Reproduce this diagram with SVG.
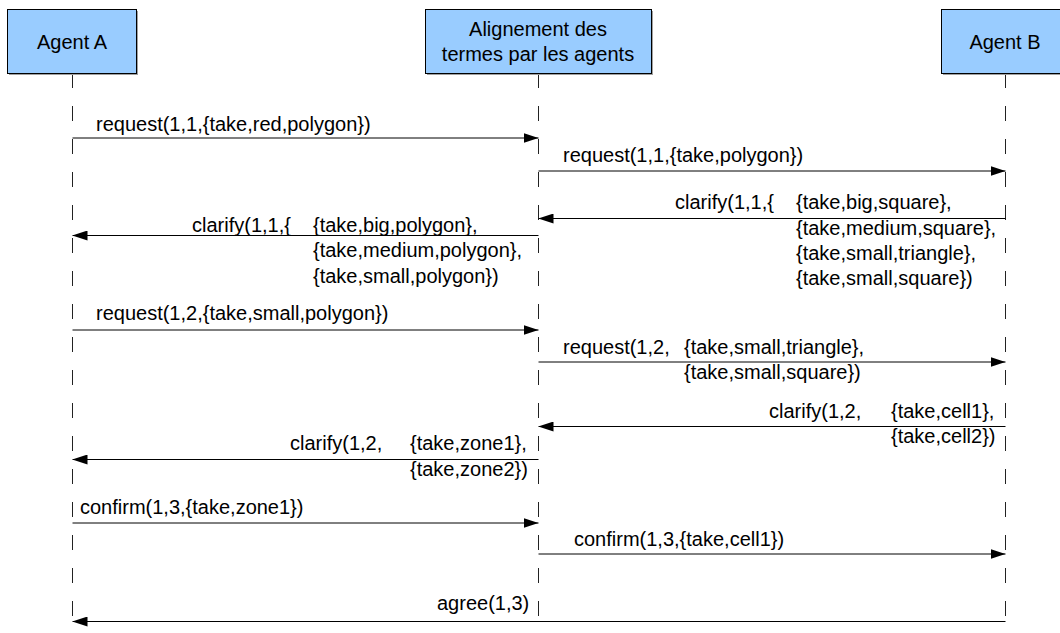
<svg xmlns="http://www.w3.org/2000/svg" width="1060" height="633" viewBox="0 0 1060 633">
<style>
text{font-family:"Liberation Sans",Arial,sans-serif;font-size:20px;fill:#000}
.box{fill:#99ccff;stroke:#000;stroke-width:1}
.shadow{fill:#a0a0a0}
.life{stroke:#222;stroke-width:1;stroke-dasharray:15 18;fill:none}
.msg{stroke:#000;stroke-width:1;fill:none}
.c{text-anchor:middle}
</style>
<defs>
<marker id="ah" viewBox="0 0 15 10" refX="15" refY="5" markerWidth="15" markerHeight="10" markerUnits="userSpaceOnUse" orient="auto">
<path d="M0,0 L15,5 L0,10 Z" fill="#000"/>
</marker>
</defs>
<rect width="1060" height="633" fill="#fff"/>
<g id="lifelines">
<line class="life" x1="72.5" y1="73" x2="72.5" y2="633"/>
<line class="life" x1="538.5" y1="73" x2="538.5" y2="633"/>
<line class="life" x1="1005.5" y1="73" x2="1005.5" y2="633"/>
</g>
<g id="agentA">
<rect class="shadow" x="9" y="11" width="129" height="64"/>
<rect class="box" x="7.5" y="9.5" width="129" height="64"/>
<text class="c" x="72" y="49">Agent A</text>
</g>
<g id="alignement">
<rect class="shadow" x="427" y="11" width="226" height="64"/>
<rect class="box" x="425.5" y="9.5" width="226" height="64"/>
<text class="c" x="538" y="36">Alignement des</text>
<text class="c" x="538" y="61">termes par les agents</text>
</g>
<g id="agentB">
<rect class="shadow" x="943" y="11" width="129" height="64"/>
<rect class="box" x="941.5" y="9.5" width="129" height="64"/>
<text class="c" x="1005" y="49">Agent B</text>
</g>
<g id="connectors">
<line class="msg" x1="72.5" y1="138" x2="538.5" y2="138" marker-end="url(#ah)"/>
<line class="msg" x1="538.5" y1="171" x2="1005.5" y2="171" marker-end="url(#ah)"/>
<line class="msg" x1="1005.5" y1="218.5" x2="538.5" y2="218.5" marker-end="url(#ah)"/>
<line class="msg" x1="538.5" y1="235.5" x2="72.5" y2="235.5" marker-end="url(#ah)"/>
<line class="msg" x1="72.5" y1="330" x2="538.5" y2="330" marker-end="url(#ah)"/>
<line class="msg" x1="538.5" y1="362" x2="1005.5" y2="362" marker-end="url(#ah)"/>
<line class="msg" x1="1005.5" y1="426.5" x2="538.5" y2="426.5" marker-end="url(#ah)"/>
<line class="msg" x1="538.5" y1="459.5" x2="72.5" y2="459.5" marker-end="url(#ah)"/>
<line class="msg" x1="72.5" y1="523" x2="538.5" y2="523" marker-end="url(#ah)"/>
<line class="msg" x1="538.5" y1="554" x2="1005.5" y2="554" marker-end="url(#ah)"/>
<line class="msg" x1="1005.5" y1="621.5" x2="72.5" y2="621.5" marker-end="url(#ah)"/>
</g>
<g id="labels">
<text x="96" y="130.5">request(1,1,{take,red,polygon})</text>
<text x="563" y="161.5">request(1,1,{take,polygon})</text>
<text x="675" y="209">clarify(1,1,{</text>
<text x="796" y="209">{take,big,square},</text>
<text x="796" y="234.5">{take,medium,square},</text>
<text x="796" y="260">{take,small,triangle},</text>
<text x="796" y="285">{take,small,square})</text>
<text x="192" y="231.5">clarify(1,1,{</text>
<text x="313" y="231.5">{take,big,polygon},</text>
<text x="313" y="257">{take,medium,polygon},</text>
<text x="313" y="282.5">{take,small,polygon})</text>
<text x="96" y="319.5">request(1,2,{take,small,polygon})</text>
<text x="563" y="353.5">request(1,2,</text>
<text x="684" y="353.5">{take,small,triangle},</text>
<text x="684" y="379">{take,small,square})</text>
<text x="769" y="417.5">clarify(1,2,</text>
<text x="891" y="417.5">{take,cell1},</text>
<text x="891" y="443">{take,cell2})</text>
<text x="290" y="450">clarify(1,2,</text>
<text x="410" y="450">{take,zone1},</text>
<text x="410" y="475.5">{take,zone2})</text>
<text x="80" y="513.5">confirm(1,3,{take,zone1})</text>
<text x="574" y="545.5">confirm(1,3,{take,cell1})</text>
<text x="437" y="610">agree(1,3)</text>
</g>
</svg>
